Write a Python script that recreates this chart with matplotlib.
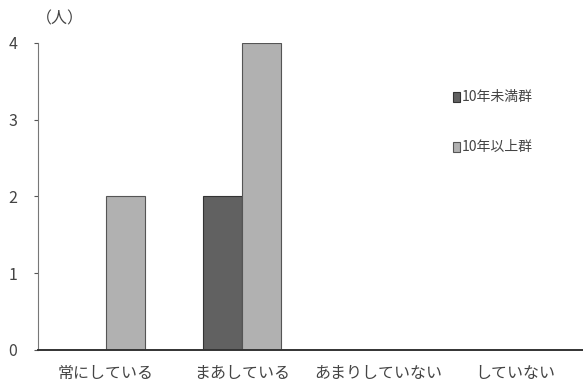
import numpy as np
import matplotlib
matplotlib.use("Agg")
import matplotlib.pyplot as plt
from matplotlib.patches import Rectangle

plt.rcParams['font.family'] = ['Noto Sans CJK JP', 'DejaVu Sans']

categories = ["常にしている", "まあしている", "あまりしていない", "していない"]
under10 = [0, 2, 0, 0]
over10 = [2, 4, 0, 0]
series_names = ["10年未満群", "10年以上群"]
yticks = [0, 1, 2, 3, 4]

fig = plt.figure(figsize=(5.83, 3.87), dpi=100)
ax = fig.add_axes([0.065, 0.096, 0.935, 0.793])

x = np.arange(len(categories))
w = 0.285
ax.bar(x - w / 2, under10, w, color="#616161", edgecolor="#333333", linewidth=0.8)
ax.bar(x + w / 2, over10, w, color="#b1b1b1", edgecolor="#555555", linewidth=0.8)

ax.set_xlim(-0.5, len(categories) - 0.5)
ax.set_ylim(0, 4)
ax.set_yticks(yticks)
ax.set_xticks(x)
ax.set_xticklabels(categories, fontsize=11.5, color="#444444")
ax.tick_params(axis="x", length=0, pad=11)
ax.tick_params(axis="y", length=3, width=0.8, colors="#555555", labelsize=11.5, pad=12, labelcolor="#444444")
for s in ["top", "right"]:
    ax.spines[s].set_visible(False)
ax.spines["left"].set_color("#777777")
ax.spines["bottom"].set_color("#333333")
ax.spines["bottom"].set_linewidth(1.4)

fig.text(0.062, 0.95, "（人）", fontsize=11.5, color="#444444", va="center")

# legend
cols = ["#616161", "#b1b1b1"]
edges = ["#333333", "#555555"]
for i, (name, c, e) in enumerate(zip(series_names, cols, edges)):
    yy = 0.75 - i * 0.13
    fig.patches.append(Rectangle((0.777, yy - 0.013), 0.012, 0.026, transform=fig.transFigure,
                                 facecolor=c, edgecolor=e, linewidth=0.8))
    fig.text(0.792, yy, name, fontsize=10, color="#444444", va="center")

fig.savefig("out.png", dpi=100)
